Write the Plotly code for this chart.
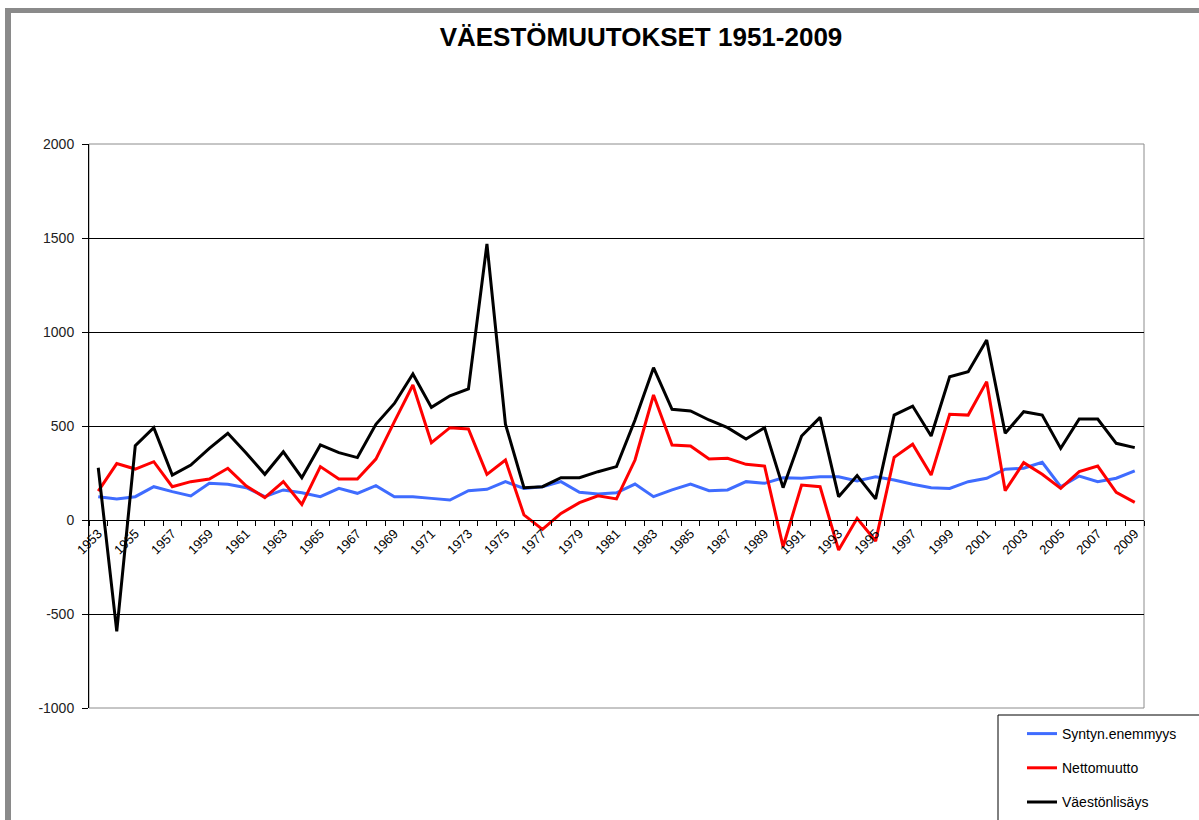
import plotly.graph_objects as go

years = list(range(1953, 2010))

syntyn_enemmyys = [124, 112, 124, 177, 151, 128, 195, 190, 172, 124,
                   160, 145, 124, 168, 142, 183, 124, 124, 115, 106,
                   156, 163, 204, 168, 177, 204, 147, 138, 145, 191,
                   124, 160, 191, 156, 160, 204, 195, 225, 222, 230,
                   230, 207, 230, 213, 190, 172, 168, 204, 222, 270,
                   275, 307, 177, 234, 204, 222, 261]

nettomuutto = [154, 300, 271, 310, 177, 204, 218, 275, 181, 119,
               204, 83, 284, 218, 218, 324, 523, 718, 411, 491,
               484, 243, 319, 27, -50, 35, 92, 129, 112, 319,
               665, 399, 394, 324, 328, 296, 287, -142, 186, 177,
               -160, 9, -112, 333, 403, 239, 562, 558, 736, 156,
               305, 243, 168, 257, 287, 147, 94]

vaestonlisays = [278, -592, 395, 491, 239, 292, 381, 461, 355, 243,
                 363, 225, 399, 358, 332, 509, 620, 777, 599, 661,
                 697, 1468, 510, 172, 177, 225, 225, 257, 284, 532,
                 810, 589, 580, 532, 491, 431, 491, 172, 447, 546,
                 124, 236, 112, 558, 606, 447, 762, 789, 957, 461,
                 576, 558, 381, 537, 537, 408, 385]

series_names = ["Syntyn.enemmyys", "Nettomuutto", "Väestönlisäys"]
series_colors = ["#3f6cff", "#ff0000", "#000000"]
series_values = [syntyn_enemmyys, nettomuutto, vaestonlisays]

label_years = years[::2]
y_ticks = [-1000, -500, 0, 500, 1000, 1500, 2000]
y_tick_labels = ["-1000", "-500", "0", "500", "1000", "1500", "2000"]

W, H = 1199, 820
L, R, T, B = 89, 1144, 144, 708

fig = go.Figure()
for i, (name, col, vals) in enumerate(zip(series_names, series_colors, series_values)):
    fig.add_trace(go.Scatter(
        x=years, y=vals, mode="lines", name=name,
        line=dict(color=col, width=3),
        legendgroup=f"g{i}",
    ))

def px_x(px):
    return (px - L) / (R - L)

def px_y(py):
    return (B - py) / (B - T)

shapes = [
    # plot area border
    dict(type="rect", xref="paper", yref="paper", x0=0, x1=1, y0=0, y1=1,
         line=dict(color="#8c8c8c", width=1), layer="below"),
    # page frame bars
    dict(type="rect", xref="paper", yref="paper",
         x0=px_x(5), x1=px_x(W + 5), y0=px_y(8), y1=px_y(13),
         line=dict(width=0), fillcolor="#8a8a8a"),
    dict(type="rect", xref="paper", yref="paper",
         x0=px_x(5), x1=px_x(11), y0=px_y(H + 5), y1=px_y(8),
         line=dict(width=0), fillcolor="#8a8a8a"),
    # legend box
    dict(type="rect", xref="paper", yref="paper",
         x0=px_x(998), x1=px_x(W + 10), y0=px_y(H + 10), y1=px_y(715),
         line=dict(color="#000000", width=1), fillcolor="rgba(0,0,0,0)"),
]

fig.update_layout(
    width=W, height=H,
    margin=dict(l=L, r=W - R, t=T, b=H - B, autoexpand=False),
    paper_bgcolor="white", plot_bgcolor="white",
    font=dict(family="Liberation Sans, Arial, sans-serif", color="#000000"),
    title=dict(text="<b>VÄESTÖMUUTOKSET 1951-2009</b>",
               x=641 / W, xanchor="center", y=1 - 37 / H, yanchor="middle",
               font=dict(size=26, family="Liberation Sans, Arial, sans-serif")),
    showlegend=True,
    legend=dict(x=px_x(1022), y=px_y(718), xanchor="left", yanchor="top",
                bgcolor="rgba(0,0,0,0)", borderwidth=0,
                font=dict(size=14), tracegroupgap=13, itemwidth=30),
    shapes=shapes,
)

fig.update_xaxes(
    range=[1952.5, 2009.5],
    anchor="free", position=1 / 3,
    showline=True, linecolor="#000000", linewidth=1,
    tickmode="array", tickvals=label_years, ticktext=[str(y) for y in label_years],
    tickangle=-45, ticks="", tickfont=dict(size=13),
    showgrid=False, zeroline=False,
    minor=dict(tickmode="array", tickvals=[y + 0.5 for y in range(1952, 2010)],
               ticks="outside", ticklen=5, tickcolor="#000000", showgrid=False),
)

fig.update_yaxes(
    range=[-1000, 2000],
    tickmode="array", tickvals=y_ticks, ticktext=y_tick_labels,
    showline=True, linecolor="#000000", linewidth=1,
    ticks="outside", ticklen=6, tickcolor="#000000",
    ticklabelstandoff=5,
    showgrid=True, gridcolor="#000000", gridwidth=1,
    zeroline=False, tickfont=dict(size=14, color="#222222"),
)

fig.write_html("out.html", config={"displayModeBar": False},
               post_script="document.body.style.margin='0';document.body.style.overflow='hidden';")
